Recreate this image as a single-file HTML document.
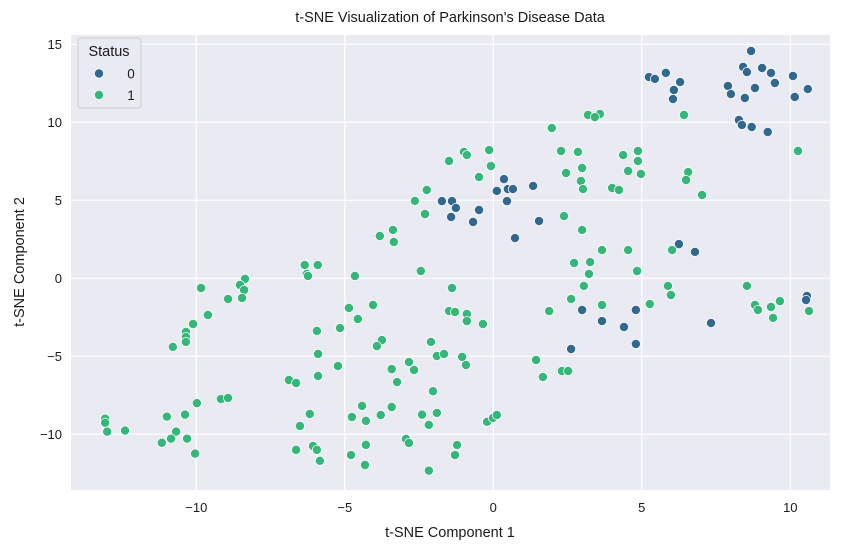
<!DOCTYPE html>
<html><head><meta charset="utf-8">
<style>
html,body{margin:0;padding:0;background:#fff;}
svg{display:block;font-family:"Liberation Sans","DejaVu Sans",sans-serif;}
</style></head>
<body>
<svg id="chart" width="854" height="550" viewBox="0 0 854 550" xmlns="http://www.w3.org/2000/svg">
  <rect x="71" y="35" width="759" height="455" fill="#eaeaf2"/>
  <g id="grid"></g>
  <g id="points"></g>
  <g id="ticks"></g>
  <text x="450" y="22" text-anchor="middle" font-size="14.5" fill="#1a1a1a">t-SNE Visualization of Parkinson's Disease Data</text>
  <text x="450" y="537" text-anchor="middle" font-size="14.5" fill="#1a1a1a">t-SNE Component 1</text>
  <text x="24" y="262" text-anchor="middle" font-size="14.5" fill="#1a1a1a" transform="rotate(-90 24 262)">t-SNE Component 2</text>
  <g>
    <rect x="78" y="38" width="63" height="70" rx="3" fill="#eaeaf2" stroke="#cccccc" stroke-width="1" opacity="0.9"/>
    <text x="109" y="56" text-anchor="middle" font-size="14.5" fill="#1a1a1a">Status</text>
    <circle cx="99" cy="73.5" r="4.6" fill="#31688e" stroke="#fff" stroke-width="0.75"/>
    <text x="131" y="78.5" text-anchor="middle" font-size="13.5" fill="#1a1a1a">0</text>
    <circle cx="99" cy="95" r="4.6" fill="#35b779" stroke="#fff" stroke-width="0.75"/>
    <text x="131" y="100" text-anchor="middle" font-size="13.5" fill="#1a1a1a">1</text>
  </g>
</svg>
<script>
const xTicks = [-10, -5, 0, 5, 10];
const yTicks = [-10, -5, 0, 5, 10, 15];
const status0X = [8.68,8.41,8.54,9.05,9.35,9.48,10.09,10.59,10.15,8.81,7.90,8.00,8.47,8.27,8.37,8.70,9.24,5.24,5.44,5.81,6.29,6.08,6.05,0.36,0.12,0.49,0.66,1.34,0.46,-1.73,-1.39,-1.26,-0.48,-1.42,-0.68,1.54,0.73,6.25,6.79,2.99,3.66,4.80,4.40,2.62,4.80,7.33,10.56,10.53];
const status0Y = [14.57,13.55,13.22,13.48,13.16,12.52,12.97,12.13,11.62,12.20,12.33,11.81,11.56,10.15,9.83,9.70,9.38,12.9,12.78,13.17,12.58,12.07,11.49,6.36,5.60,5.72,5.72,5.92,4.95,4.95,4.95,4.51,4.38,3.93,3.61,3.67,2.58,2.19,1.69,-2.03,-2.74,-2.03,-3.12,-4.53,-4.21,-2.87,-1.13,-1.39];
const status1X = [3.59,6.42,10.26,4.37,4.87,4.87,4.54,4.97,4.00,4.23,6.56,6.49,7.03,3.19,3.42,1.97,-0.99,-0.89,-1.49,-0.14,-0.08,-0.48,-2.24,-2.64,-2.30,2.28,2.85,2.45,2.99,2.95,3.02,2.38,2.99,3.66,4.54,2.72,3.26,3.22,3.05,2.62,3.66,-2.44,-1.39,1.88,6.02,5.88,5.98,5.27,4.84,8.54,8.81,8.91,9.35,9.65,9.42,10.63,1.44,1.67,2.31,2.52,
 -8.36,-8.53,-8.39,-8.46,-8.93,-9.84,-9.61,-10.11,-10.35,-10.35,-10.35,-10.79,-9.98,-9.17,-8.93,-10.38,-10.99,-13.07,-13.07,-13.0,-12.40,-10.68,-10.85,-11.16,-10.31,-10.04,
 -3.82,-3.38,-3.35,-6.35,-5.91,-6.28,-6.24,-4.66,-4.86,-4.05,-4.56,-5.16,-5.94,-3.75,-3.92,-5.90,-5.23,-3.42,-2.84,-2.67,-3.24,-6.88,-6.64,-5.90,-4.42,-4.76,-4.29,-3.79,-3.42,-6.18,-6.51,-6.64,-6.07,-5.94,-5.84,-4.79,-4.29,-4.32,-2.94,-2.84,
 -1.49,-1.29,-0.89,-0.89,-0.35,-2.10,-1.90,-1.66,-1.05,-0.92,-2.03,-2.40,-1.90,-2.17,-0.21,-0.01,0.12,-1.22,-1.29,-2.17];
const status1Y = [10.53,10.47,8.16,7.90,8.16,7.52,6.88,6.69,5.79,5.66,6.81,6.30,5.34,10.47,10.33,9.63,8.10,7.90,7.52,8.22,7.20,6.49,5.66,4.96,4.12,8.16,8.10,6.75,7.07,6.24,5.72,3.99,3.10,1.81,1.81,0.98,1.04,0.28,-0.49,-1.33,-1.71,0.47,-0.62,-2.10,1.81,-0.49,-1.07,-1.65,0.47,-0.49,-1.71,-2.03,-1.84,-1.46,-2.54,-2.10,-5.24,-6.33,-5.94,-5.94,
 -0.04,-0.43,-0.75,-1.26,-1.33,-0.62,-2.35,-2.93,-3.44,-3.76,-4.08,-4.40,-8.0,-7.74,-7.67,-8.74,-8.87,-9.0,-9.26,-9.83,-9.76,-9.83,-10.28,-10.54,-10.28,-11.24,
 2.71,3.10,2.33,0.85,0.85,0.28,0.15,0.15,-1.90,-1.71,-2.61,-3.19,-3.38,-3.96,-4.35,-4.85,-5.62,-5.82,-5.37,-5.88,-6.65,-6.52,-6.71,-6.26,-8.18,-8.89,-9.14,-8.76,-8.25,-8.70,-9.47,-11.0,-10.75,-11.0,-11.7,-11.33,-10.68,-11.97,-10.3,-10.56,
 -2.10,-2.16,-2.29,-2.74,-2.93,-4.08,-4.98,-4.85,-5.04,-5.56,-7.24,-8.74,-8.63,-9.40,-9.2,-8.95,-8.76,-10.69,-11.33,-12.33];

const NS = "http://www.w3.org/2000/svg";
const PL = 71, PR = 830, PT = 35, PB = 490;
function xScale(v){ return 493.3 + v * 29.7; }
function yScale(v){ return 278.3 - v * 15.6; }
function fmt(v){ return v < 0 ? "\u2212" + Math.abs(v) : String(v); }

const grid = document.getElementById("grid");
const ticks = document.getElementById("ticks");
xTicks.forEach(t => {
  const x = xScale(t);
  const l = document.createElementNS(NS, "line");
  l.setAttribute("x1", x); l.setAttribute("x2", x); l.setAttribute("y1", PT); l.setAttribute("y2", PB);
  l.setAttribute("stroke", "#fff"); l.setAttribute("stroke-width", "1.2");
  
  
  grid.appendChild(l);
  const tx = document.createElementNS(NS, "text");
  tx.setAttribute("x", x); tx.setAttribute("y", 512); tx.setAttribute("text-anchor", "middle");
  tx.setAttribute("font-size", "13"); tx.setAttribute("fill", "#1a1a1a");
  tx.textContent = fmt(t);
  
  
  ticks.appendChild(tx);
});
yTicks.forEach(t => {
  const y = yScale(t);
  const l = document.createElementNS(NS, "line");
  l.setAttribute("x1", PL); l.setAttribute("x2", PR); l.setAttribute("y1", y); l.setAttribute("y2", y);
  l.setAttribute("stroke", "#fff"); l.setAttribute("stroke-width", "1.2");
  
  
  grid.appendChild(l);
  const tx = document.createElementNS(NS, "text");
  tx.setAttribute("x", 62); tx.setAttribute("y", y + 4.5); tx.setAttribute("text-anchor", "end");
  tx.setAttribute("font-size", "13"); tx.setAttribute("fill", "#1a1a1a");
  tx.textContent = fmt(t);
  
  
  ticks.appendChild(tx);
});

const pts = document.getElementById("points");
function drawSeries(xs, ys, color, name){
  for (let i = 0; i < xs.length; i++){
    const c = document.createElementNS(NS, "circle");
    c.setAttribute("cx", xScale(xs[i])); c.setAttribute("cy", yScale(ys[i]));
    c.setAttribute("r", "4.6"); c.setAttribute("fill", color);
    c.setAttribute("stroke", "#fff"); c.setAttribute("stroke-width", "0.75");
    
    
    pts.appendChild(c);
  }
}
drawSeries(status0X, status0Y, "#31688e", "point-status-0");
drawSeries(status1X, status1Y, "#35b779", "point-status-1");
</script>
</body></html>
